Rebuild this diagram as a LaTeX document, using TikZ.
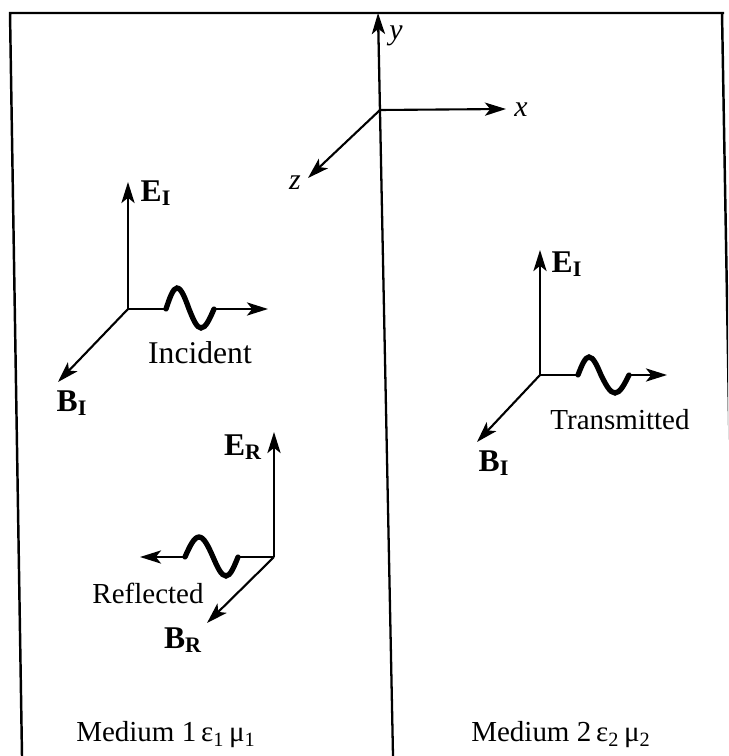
\documentclass[tikz,border=0pt]{standalone}
\usepackage{fontspec}
\setmainfont{Liberation Serif}
\usetikzlibrary{arrows.meta}

\tikzset{
  vec/.style={line width=1.2pt, -{Stealth[length=12pt,width=7.5pt,inset=3pt]}},
  ray/.style={line width=1.2pt},
  wave/.style={line width=3pt, line cap=round},
  border/.style={line width=1.4pt},
  lbl/.style={font=\fontsize{16.5}{19}\selectfont, inner sep=0pt},
  vlbl/.style={font=\fontsize{18}{20}\selectfont\bfseries, inner sep=0pt},
  axlbl/.style={font=\fontsize{17}{20}\selectfont\itshape, inner sep=0pt},
}

\begin{document}
\begin{tikzpicture}[x=0.02cm, y=-0.02cm]
    \useasboundingbox (0,0) rectangle (728,756);

    % Frame and interface
    \coordinate (tl) at (10,13);
    \coordinate (tr) at (724,13);
    \coordinate (bl) at (22,756);
    \coordinate (br) at (735,756);
    \coordinate (cb) at (393,756);
    \begin{scope}
        \clip (0,0) rectangle (728,756);
        \draw[border] (bl) -- (tl) -- (tr);
        \draw[border] (722,13) -- (br);
    \end{scope}

    % Axes
    \coordinate (O) at (380,110);
    \coordinate (ytip) at (378,13);
    \coordinate (xtip) at (506,109);
    \coordinate (ztip) at (308,178);
    \draw[vec, line width=1.3pt] (cb) -- (ytip);
    \draw[vec] (O) -- (xtip);
    \draw[vec] (O) -- (ztip);
    \node[axlbl] (ylab) at (396,36) {y};
    \node[axlbl] (xlab) at (521,110) {x};
    \node[axlbl] (zlab) at (295,183) {z};

    % Incident wave
    \coordinate (oI) at (128,309);
    \coordinate (eI) at (128,182);
    \coordinate (bI) at (58,382);
    \coordinate (kI) at (268,309);
    \coordinate (wIa) at (166,309);
    \coordinate (wIb) at (214,309);
    \draw[vec] (oI) -- (eI);
    \draw[vec] (oI) -- (bI);
    \draw[ray] (oI) -- (wIa);
    \draw[wave] (wIa) sin (177,288) cos (189,309) sin (201,328) cos (wIb);
    \draw[vec] (wIb) -- (kI);
    \node[vlbl] (lEI) at (156,193) {E\textsubscript{I}};
    \node[vlbl] (lBI) at (72,403) {B\textsubscript{I}};
    \node[lbl, font=\fontsize{18}{20}\selectfont] (lInc) at (200,353) {Incident};

    % Reflected wave
    \coordinate (oR) at (274,557);
    \coordinate (eR) at (274,432);
    \coordinate (bR) at (207,623);
    \coordinate (kR) at (140,557);
    \coordinate (wRa) at (238,557);
    \coordinate (wRb) at (185,557);
    \draw[vec] (oR) -- (eR);
    \draw[vec] (oR) -- (bR);
    \draw[ray] (oR) -- (wRa);
    \draw[wave] (wRa) sin (226,576) cos (213,557) sin (199,537) cos (wRb);
    \draw[vec] (wRb) -- (kR);
    \node[vlbl] (lER) at (243,447) {E\textsubscript{R}};
    \node[vlbl] (lBR) at (183,640) {B\textsubscript{R}};
    \node[lbl] (lRef) at (148,593) {Reflected};

    % Transmitted wave
    \coordinate (oT) at (540,375);
    \coordinate (eT) at (540,250);
    \coordinate (bT) at (477,442);
    \coordinate (kT) at (667,375);
    \coordinate (wTa) at (578,375);
    \coordinate (wTb) at (629,375);
    \draw[vec] (oT) -- (eT);
    \draw[vec] (oT) -- (bT);
    \draw[ray] (oT) -- (wTa);
    \draw[wave] (wTa) sin (589,357) cos (601,375) sin (615,393) cos (wTb);
    \draw[vec] (wTb) -- (kT);
    \node[vlbl] (lET) at (567,264) {E\textsubscript{I}};
    \node[vlbl] (lBT) at (494,463) {B\textsubscript{I}};
    \node[lbl] (lTra) at (620,420) {Transmitted};

    % Media
    \node[lbl] (m1) at (166,735) {Medium 1\,ε\textsubscript{1}\,μ\textsubscript{1}};
    \node[lbl] (m2) at (561,735) {Medium 2\,ε\textsubscript{2}\,μ\textsubscript{2}};

\end{tikzpicture}
\end{document}
